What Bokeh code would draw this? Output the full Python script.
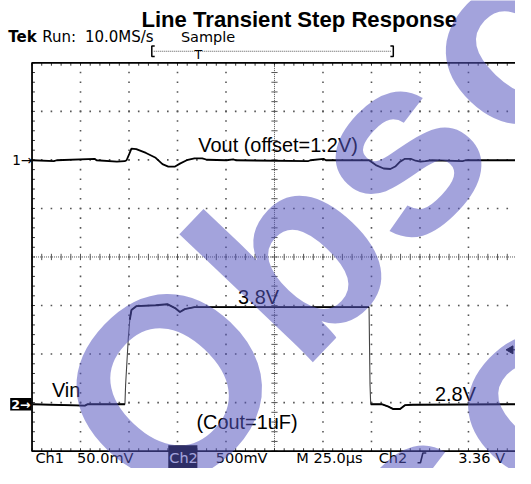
import numpy as np
from bokeh.plotting import figure
from bokeh.models import Range1d, Label
from bokeh.embed import file_html
from bokeh.resources import INLINE

# ---------------- data ----------------
time_div_us = 25.0          # M 25.0us
ch1_div_mV = 50.0           # Ch1 50.0mV
ch2_div_V = 0.5             # Ch2 500mV
ch2_ref_V = 2.8
trigger_level_V = 3.36

vout_time_us = [0.25, 11.25, 12.75, 32.25, 33.25, 43.75, 47.75, 48.75, 50.25, 51.25,
                53.75, 58.75, 63.75, 67.25, 70.25, 73.75, 76.25, 79.75, 83.75, 87.75,
                90.25, 100.25, 103.75, 105.0, 142.25, 143.5, 150.25, 151.5, 173.75, 177.25,
                181.25, 184.75, 187.25, 189.75, 192.25, 195.25, 197.75, 200.25, 202.75, 206.25,
                222.0, 223.5, 249.25]
vout_mV = [0, -1, 0, 1.5, 0, -1.5, -1, 0, 7, 12,
           11.5, 7.5, 2.5, -4, -6.5, -6.5, -3.5, 0, 2, 2,
           0.5, 0, 0.8, 0, -1, 0, 1.5, 0, 0, -5,
           -8.5, -9, -6.5, -1.5, 1.5, 1.5, -0.5, -1.5, -1, 0,
           -1, 0, 0]

vin_time_us = [0.25, 27.25, 28.75, 47.9, 48.25, 49.6, 50.4, 51.25, 53.75, 63.75,
               69.75, 73.75, 76.25, 78.75, 83.75, 173.75, 174.25, 174.6, 180.25, 183.75,
               186.25, 189.75, 192.25, 196.25, 249.25]
vin_V = [2.8, 2.785, 2.8, 2.8, 3.0, 3.47, 3.67, 3.77, 3.81, 3.82,
         3.83, 3.79, 3.75, 3.78, 3.8, 3.8, 3.0, 2.8, 2.8, 2.775,
         2.75, 2.75, 2.79, 2.795, 2.8]

watermark_letters = ["O", "b", "s", "o", "s", "o"]

# ---------------- geometry helpers (reference-picture pixels -> plot units) ----------------
X0_PX, PX_PER_DIV_X = 32.5, 50.0
Y0_PX, PX_PER_DIV_Y = 265.25, 50.2
CH1_ZERO_DIV = 1.993
CH2_ZERO_DIV = -3.033
W_REF, H_REF = 531, 484
W, H = 515, 468
S = W / W_REF
BASE_FIX = 0.235   # baseline correction, fraction of font size


def tx(px):
    return (px - X0_PX) / PX_PER_DIV_X * time_div_us


def ty(py):
    return (Y0_PX - py) / PX_PER_DIV_Y


def fs(ref_px):
    return f"{ref_px * S:.1f}px"


ylo, yhi = ty(H_REF), ty(0)
p = figure(width=W, height=H, x_range=Range1d(tx(0), tx(W_REF)), y_range=Range1d(ylo, yhi),
           output_backend="svg", toolbar_location=None, x_axis_location=None,
           y_axis_location=None, min_border=0, outline_line_color=None)
p.grid.visible = False
p.background_fill_color = "white"
p.border_fill_color = "white"
p.extra_y_ranges = {
    "ch1": Range1d((ylo - CH1_ZERO_DIV) * ch1_div_mV, (yhi - CH1_ZERO_DIV) * ch1_div_mV),
    "ch2": Range1d(ch2_ref_V + (ylo - CH2_ZERO_DIV) * ch2_div_V,
                   ch2_ref_V + (yhi - CH2_ZERO_DIV) * ch2_div_V),
}

T = time_div_us
minor_x = np.arange(0, 10.001, 0.2)
minor_y = np.arange(-4, 4.001, 0.2)

# graticule dots
gx, gy = [], []
for xd in [1, 2, 3, 4, 6, 7, 8, 9]:
    for yd in minor_y:
        gx.append(xd * T); gy.append(yd)
for yd in [-3, -2, -1, 1, 2, 3]:
    for xd in minor_x:
        gx.append(xd * T); gy.append(yd)
p.scatter(gx, gy, marker="square", size=1.6, fill_color="#555555", line_color=None)

# center cross (dotted with ticks)
p.line([0, 10 * T], [0, 0], line_color="#555555", line_dash="1 1", line_width=1)
p.line([5 * T, 5 * T], [-4, 4], line_color="#555555", line_dash="1 1", line_width=1)
p.segment(x0=minor_x * T, y0=-0.065, x1=minor_x * T, y1=0.065, line_color="#555555", line_width=1)
p.segment(x0=5 * T - 1.6, y0=minor_y, x1=5 * T + 1.6, y1=minor_y, line_color="#555555", line_width=1)

# border ticks
p.segment(x0=minor_x * T, y0=4, x1=minor_x * T, y1=3.94, line_color="#333333", line_width=1)
p.segment(x0=minor_x * T, y0=-4, x1=minor_x * T, y1=-3.94, line_color="#333333", line_width=1)
p.segment(x0=0, y0=minor_y, x1=1.5, y1=minor_y, line_color="#333333", line_width=1)
# border
p.line([10 * T, 0, 0, 10 * T, 10 * T], [4, 4, -4, -4, 4], line_color="black", line_width=1.8)


def broken(t, v, thr):
    """Copy of a trace with gaps where it jumps fast (drawn thin there)."""
    tt, vv = [], []
    for i in range(len(t)):
        if i > 0 and abs(v[i] - v[i - 1]) > thr:
            tt.append(float("nan")); vv.append(float("nan"))
        tt.append(t[i]); vv.append(v[i])
    return tt, vv


# traces
p.line(vout_time_us, vout_mV, y_range_name="ch1", line_color="black", line_width=1.8)
p.line(vin_time_us, vin_V, y_range_name="ch2", line_color="#444444", line_width=1.1)
bt, bv = broken(vin_time_us, vin_V, 0.15)
p.line(bt, bv, y_range_name="ch2", line_color="black", line_width=1.9)

# trigger level marker
p.scatter([tx(526)], [trigger_level_V], y_range_name="ch2", marker="triangle", angle=np.pi / 2,
          size=8, fill_color="black", line_color="black")
p.segment(x0=tx(527), y0=trigger_level_V, x1=tx(531), y1=trigger_level_V, y_range_name="ch2",
          line_color="black", line_width=1)

# channel marker boxes
p.quad(left=tx(10), right=tx(32), bottom=ty(424), top=ty(411), fill_color="black", line_color=None)
p.quad(left=tx(173), right=tx(203), bottom=ty(484), top=ty(460), fill_color="black", line_color=None)

# header record bracket
p.line([tx(159), tx(156), tx(156), tx(159)], [ty(47), ty(47), ty(58), ty(58)], line_color="black", line_width=1.5)
p.line([tx(402), tx(405), tx(405), tx(402)], [ty(47), ty(47), ty(58), ty(58)], line_color="black", line_width=1.5)
p.line([tx(158), tx(403)], [ty(52.5), ty(52.5)], line_color="#555555", line_dash="1 1", line_width=1)
# rising-edge symbol
p.line([tx(430), tx(433), tx(435.5), tx(439)], [ty(478), ty(478), ty(468), ty(468)],
       line_color="black", line_width=1.6)


def lab(px, py, text, size, font="DejaVu Sans", style="normal", color="black",
        align="left", **kw):
    p.add_layout(Label(x=tx(px), y=ty(py - BASE_FIX * size), text=text, text_font=font,
                       text_font_size=fs(size), text_font_style=style, text_color=color,
                       text_align=align, text_baseline="alphabetic", **kw))


# header
lab(308, 25, "Line Transient Step Response", 22.8, font="Liberation Sans", style="bold", align="center")
lab(8, 41.5, "Tek", 15.5, font="DejaVu Sans", style="bold")
lab(43, 41.5, "Run:", 15.5)
lab(87, 41.5, "10.0MS/s", 15.5)
lab(186, 41.5, "Sample", 15)
lab(204, 58.5, "T", 13, align="center")

# channel markers
p.add_layout(Label(x=tx(12), y=0, y_range_name="ch1", text="1→", text_font="DejaVu Sans",
                   text_font_size=fs(14), text_baseline="middle", text_color="black"))
p.add_layout(Label(x=tx(11), y=ch2_ref_V, y_range_name="ch2", text="2→", text_font="DejaVu Sans",
                   text_font_size=fs(13), text_font_style="bold", text_baseline="middle",
                   text_color="white"))

# trace annotations
lab(204, 154, "Vout (offset=1.2V)", 20.5, font="Liberation Sans")
lab(245, 311, "3.8V", 20.5, font="Liberation Sans")
lab(53, 408, "Vin", 20.5, font="Liberation Sans")
lab(448, 412, "2.8V", 20.5, font="Liberation Sans")
lab(202, 441, "(Cout=1uF)", 20.5, font="Liberation Sans")

# bottom status line
for px, txt, col in [(36, "Ch1", "black"), (79, "50.0mV", "black"), (174, "Ch2", "white"),
                     (222, "500mV", "black"), (305, "M 25.0µs", "black"), (390, "Ch2", "black"),
                     (472, "3.36 V", "black")]:
    lab(px, 477, txt, 15.0, color=col)

# watermark, one letter at a time (baseline-centre points in reference pixels)
wm_size = 263
ang = np.deg2rad(46.5)
down = np.array([np.sin(ang), np.cos(ang)])
wm_pos = [(219.0, 441.5), (344.0, 308.0), (449.0, 195.5), (562.0, 81.5),
          (472.0, 561.5), (585.0, 447.5)]
for ch, (bx, by) in zip(watermark_letters, wm_pos):
    ax_, ay_ = np.array([bx, by]) - BASE_FIX * wm_size * down
    p.add_layout(Label(x=tx(ax_), y=ty(ay_), text=ch, text_font="Liberation Sans",
                       text_font_style="bold", text_font_size=fs(wm_size), angle=ang,
                       text_color="#5555be", text_alpha=0.54, text_align="center",
                       text_baseline="alphabetic"))

open("out.html", "w").write(file_html(p, INLINE))
